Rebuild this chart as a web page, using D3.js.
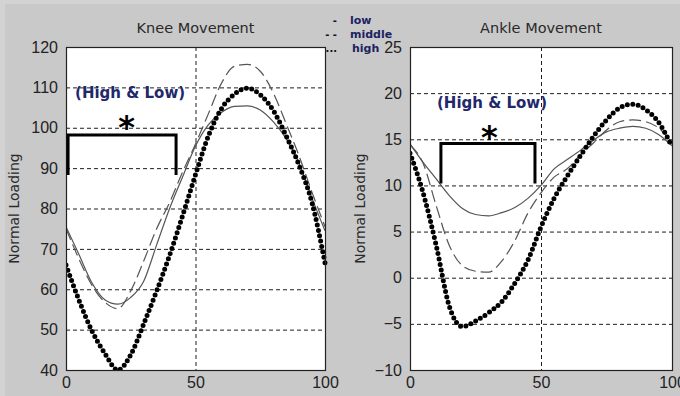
<!DOCTYPE html>
<html><head><meta charset="utf-8">
<script src="https://cdn.jsdelivr.net/npm/d3@7"></script>
<style>
html,body{margin:0;padding:0;background:#c9c9c9;}
svg{display:block;}
</style></head>
<body>
<svg id="chart" width="680" height="396"></svg>
<script>
// ---- data ----
const percent = [0,5,10,15,20,25,30,35,40,45,50,55,60,65,70,75,80,85,90,95,100];

const kneeLow    = [75.5,68.6,61.6,57.4,56.3,58,62,71,80,87.8,95.5,100.8,103.8,105.3,105.4,104.4,101.5,97.3,91.2,82.5,74.5];
const kneeMiddle = [75,67.5,61,56.8,55.2,59.6,67,75,81.5,89,96,103.5,111,115.2,115.7,114,108.7,101,93,84,75.5];
const kneeHigh   = [66,57.3,49.7,44.1,40,43.8,51.4,59.6,68.4,78.2,88.4,98,104.7,108.3,109.8,108.2,104.3,98,90.7,81.4,66.5];

const ankleLow    = [14.5,12.5,10.7,8.9,7.5,6.85,6.7,7.05,7.6,8.6,10,11.8,12.8,13.8,14.9,15.8,16.2,16.4,16.2,15.5,14.3];
const ankleMiddle = [14.4,12.4,7.8,3.5,1.3,0.7,0.6,1.8,4.0,7,9.2,10.9,11.8,13.3,14.6,16,16.9,17.1,16.9,16.2,14.6];
const ankleHigh   = [13.5,9.2,3.5,-3.1,-5.3,-4.7,-3.8,-2.6,-0.6,1.9,5.5,8.6,11,13.2,15.3,17.1,18.4,18.8,18.2,16.8,14.2];

const kneeTicks  = [40,50,60,70,80,90,100,110,120];
const ankleTicks = [-10,-5,0,5,10,15,20,25];
const xTicks = [0,50,100];

const titles = ["Knee Movement","Ankle Movement"];
const yLabel = "Normal Loading";
const legendLabels  = ["low","middle","high"];
const legendSymbols = ["-","- -","..."];
const noteText = "(High & Low)";
const starText = "*";

// ---- layout ----
const W = 680, H = 396, TOP = 47, BOTTOM = 370;
const svg = d3.select("#chart");
svg.append("rect").attr("width",W).attr("height",H).attr("fill","#d3d3d3");
svg.append("rect").attr("x",5).attr("y",4).attr("width",W-5).attr("height",H-4).attr("fill","#c9c9c9");

const panels = [
  {left:66, right:325, yDomain:[40,120], ticks:kneeTicks, title:titles[0],
   low:kneeLow, middle:kneeMiddle, high:kneeHigh, labelX:13.5,
   bracket:[0.8,42.5,98.2,88.3], note:[3.5,107.4], star:[23.4,102]},
  {left:410, right:672, yDomain:[-10,25], ticks:ankleTicks, title:titles[1],
   low:ankleLow, middle:ankleMiddle, high:ankleHigh, labelX:360,
   bracket:[11.8,47.7,14.55,10.2], note:[10.3,18.4], star:[30.3,16.05]}
];

panels.forEach((p, pi) => {
  const x = d3.scaleLinear().domain([0,100]).range([p.left,p.right]);
  const y = d3.scaleLinear().domain(p.yDomain).range([BOTTOM,TOP]);
  const g = svg.append("g");

  g.append("rect").attr("x",p.left).attr("y",TOP)
    .attr("width",p.right-p.left).attr("height",BOTTOM-TOP).attr("fill","#fff");

  // grid
  g.selectAll("line.hg").data(p.ticks.slice(1,-1)).join("line")
    .attr("x1",p.left).attr("x2",p.right)
    .attr("y1",d=>y(d)+0.5).attr("y2",d=>y(d)+0.5)
    .attr("stroke","#1e1e1e").attr("stroke-width",1).attr("stroke-dasharray","4,3");
  g.selectAll("line.vg").data(xTicks.slice(1,-1)).join("line")
    .attr("x1",d=>x(d)+0.5).attr("x2",d=>x(d)+0.5)
    .attr("y1",TOP).attr("y2",BOTTOM)
    .attr("stroke","#1e1e1e").attr("stroke-width",1).attr("stroke-dasharray","4,3");

  const clipId = "clip"+pi;
  svg.append("clipPath").attr("id",clipId).append("rect")
    .attr("x",p.left).attr("y",TOP-4).attr("width",p.right-p.left+4).attr("height",BOTTOM-TOP+4);

  const line = d3.line().x((d,i)=>x(percent[i])).y(d=>y(d)).curve(d3.curveMonotoneX);
  const lg = g.append("g").attr("clip-path",`url(#${clipId})`);
  lg.append("path").attr("d",line(p.low)).attr("fill","none")
    .attr("stroke","#555").attr("stroke-width",1.2);
  lg.append("path").attr("d",line(p.middle)).attr("fill","none")
    .attr("stroke","#555").attr("stroke-width",1.2).attr("stroke-dasharray","12,5");
  lg.append("path").attr("d",line(p.high)).attr("fill","none")
    .attr("stroke","#000").attr("stroke-width",5).attr("stroke-linecap","round")
    .attr("stroke-dasharray","0,5.5");

  // box
  g.append("rect").attr("x",p.left+0.5).attr("y",TOP+0.5)
    .attr("width",p.right-p.left).attr("height",BOTTOM-TOP)
    .attr("fill","none").attr("stroke","#222").attr("stroke-width",1.2);

  // axes
  const yAxis = d3.axisLeft(y).tickValues(p.ticks).tickSize(0).tickPadding(8).tickFormat(d3.format("d"));
  const ya = g.append("g").attr("transform",`translate(${p.left},0)`).call(yAxis);
  const xAxis = d3.axisBottom(x).tickValues(xTicks).tickSize(0).tickPadding(7).tickFormat(d3.format("d"));
  const xa = g.append("g").attr("transform",`translate(0,${BOTTOM})`).call(xAxis);
  [ya,xa].forEach(a=>{
    a.select(".domain").remove();
    a.selectAll("text").attr("font-family","'Liberation Sans', Arial, sans-serif")
      .attr("font-size",16).attr("fill","#222");
  });

  // title
  g.append("text").attr("x",(p.left+p.right)/2).attr("y",33)
    .attr("text-anchor","middle").attr("font-family","'DejaVu Sans', sans-serif")
    .attr("font-size",14.5).attr("fill","#2a2a2a").text(p.title);

  // y label
  g.append("text").attr("transform",`translate(${p.labelX},${(TOP+BOTTOM)/2}) rotate(-90)`)
    .attr("text-anchor","middle").attr("dy","0.36em")
    .attr("font-family","'DejaVu Sans', sans-serif").attr("font-size",14)
    .attr("fill","#2a2a2a").text(yLabel);

  // bracket
  const [bx0,bx1,byT,byB] = p.bracket;
  const bp = d3.path();
  bp.moveTo(x(bx0),y(byB)); bp.lineTo(x(bx0),y(byT)); bp.lineTo(x(bx1),y(byT)); bp.lineTo(x(bx1),y(byB));
  g.append("path").attr("d",bp.toString()).attr("fill","none")
    .attr("stroke","#000").attr("stroke-width",3);

  // note
  g.append("text").attr("x",x(p.note[0])).attr("y",y(p.note[1]))
    .attr("font-family","'DejaVu Sans', sans-serif").attr("font-weight","bold")
    .attr("font-size",15).attr("fill","#22286a").text(noteText);
  g.append("text").attr("x",x(p.star[0])).attr("y",y(p.star[1]))
    .attr("text-anchor","middle").attr("dy","0.56em")
    .attr("font-family","'DejaVu Sans', sans-serif").attr("font-weight","bold")
    .attr("font-size",32).attr("fill","#000").text(starText);
});

// legend
const legY = [23.5,37.5,51.5];
svg.selectAll("text.legsym").data(legendSymbols).join("text")
  .attr("x",337).attr("y",(d,i)=>legY[i]).attr("text-anchor","end")
  .attr("font-family","'DejaVu Sans', sans-serif").attr("font-weight","bold")
  .attr("font-size",10).attr("fill","#111").text(d=>d);
svg.selectAll("text.leglab").data(legendLabels).join("text")
  .attr("x",(d,i)=>[350,350,352][i]).attr("y",(d,i)=>legY[i])
  .attr("font-family","'DejaVu Sans', sans-serif").attr("font-weight","bold")
  .attr("font-size",11).attr("fill","#1c2262").text(d=>d);
</script>
</body></html>
